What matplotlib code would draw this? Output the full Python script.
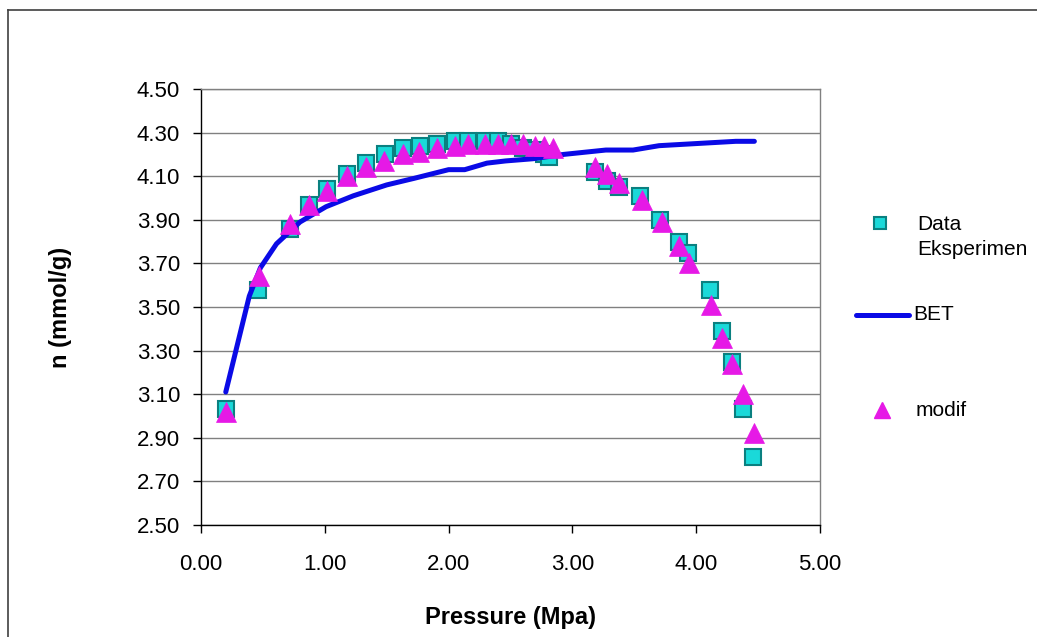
import matplotlib.pyplot as plt
from matplotlib.lines import Line2D

plt.rcParams['font.family'] = ['Liberation Sans', 'DejaVu Sans']

# Data Eksperimen (squares)
exp_x = [0.20, 0.46, 0.72, 0.87, 1.02, 1.18, 1.33, 1.49, 1.63, 1.77, 1.91,
         2.05, 2.16, 2.29, 2.40, 2.50, 2.60, 2.70, 2.77, 2.81,
         3.18, 3.28, 3.38, 3.55, 3.71, 3.86, 3.93, 4.11, 4.21, 4.29, 4.38, 4.46]
exp_y = [3.03, 3.58, 3.86, 3.97, 4.04, 4.11, 4.16, 4.20, 4.23, 4.24, 4.25,
         4.26, 4.26, 4.26, 4.26, 4.25, 4.23, 4.22, 4.20, 4.19,
         4.12, 4.08, 4.05, 4.01, 3.90, 3.80, 3.75, 3.58, 3.39, 3.25, 3.03, 2.81]

# modif (triangles)
modif_x = [0.20, 0.47, 0.72, 0.87, 1.02, 1.18, 1.33, 1.48, 1.63, 1.76, 1.91,
           2.05, 2.16, 2.29, 2.40, 2.50, 2.60, 2.70, 2.77, 2.84,
           3.18, 3.28, 3.38, 3.56, 3.72, 3.86, 3.94, 4.12, 4.21, 4.29, 4.38, 4.47]
modif_y = [3.02, 3.64, 3.88, 3.97, 4.03, 4.10, 4.14, 4.17, 4.20, 4.21, 4.23,
           4.24, 4.25, 4.25, 4.25, 4.25, 4.25, 4.24, 4.24, 4.23,
           4.14, 4.11, 4.07, 3.99, 3.89, 3.78, 3.70, 3.51, 3.36, 3.24, 3.10, 2.92]

# BET model (line)
bet_x = [0.20, 0.39, 0.48, 0.61, 0.80, 1.01, 1.23, 1.50, 1.72, 2.00, 2.13,
         2.31, 2.46, 2.68, 2.93, 3.27, 3.49, 3.70, 4.01, 4.32, 4.47]
bet_y = [3.11, 3.55, 3.68, 3.79, 3.89, 3.96, 4.01, 4.06, 4.09, 4.13, 4.13,
         4.16, 4.17, 4.18, 4.20, 4.22, 4.22, 4.24, 4.25, 4.26, 4.26]

x_ticks = [0, 1, 2, 3, 4, 5]
y_ticks = [2.5, 2.7, 2.9, 3.1, 3.3, 3.5, 3.7, 3.9, 4.1, 4.3, 4.5]

sq_face = '#1ad9d9'
sq_edge = '#0a8080'
tri_col = '#e619e6'
bet_col = '#0a0ae6'

fig = plt.figure(figsize=(10.37, 6.37), dpi=100)
ax = fig.add_axes([201 / 1037, 1 - 525 / 637, 619 / 1037, 436 / 637])

ax.plot(exp_x, exp_y, linestyle='none', marker='s', ms=12,
        mfc=sq_face, mec=sq_edge, mew=1.5, zorder=3)
ax.plot(bet_x, bet_y, color=bet_col, lw=3.6, solid_capstyle='round', zorder=4)
ax.plot(modif_x, modif_y, linestyle='none', marker='^', ms=14.5,
        mfc=tri_col, mec=tri_col, mew=0.5, zorder=5)

ax.set_xlim(0, 5)
ax.set_ylim(2.5, 4.5)
ax.set_xticks(x_ticks)
ax.set_yticks(y_ticks)
ax.set_xticklabels(['%.2f' % v for v in x_ticks])
ax.set_yticklabels(['%.2f' % v for v in y_ticks])
ax.tick_params(axis='both', direction='out', length=6, width=1,
               labelsize=16, colors='black')
ax.tick_params(axis='y', pad=9)
ax.tick_params(axis='x', pad=15)
ax.yaxis.grid(True, color='#808080', lw=1)
ax.set_axisbelow(True)

ax.spines['left'].set_color('black')
ax.spines['bottom'].set_color('black')
ax.spines['top'].set_color('#808080')
ax.spines['right'].set_color('#808080')
for s in ax.spines.values():
    s.set_linewidth(1)

ax.set_xlabel('Pressure (Mpa)', fontsize=17, fontweight='bold', labelpad=22)
ax.set_ylabel('n (mmol/g)', fontsize=17, fontweight='bold', labelpad=47)

# legend drawn by hand, Excel style
fig.add_artist(Line2D([880 / 1037], [1 - 223 / 637], marker='s', ms=8,
                      mfc=sq_face, mec=sq_edge, mew=1.5, linestyle='none'))
fig.text(917 / 1037, 1 - 237 / 637, 'Data\nEksperimen', fontsize=15,
         va='center', ha='left', linespacing=1.4)
fig.add_artist(Line2D([856 / 1037, 909 / 1037], [1 - 315 / 637, 1 - 315 / 637],
                      color=bet_col, lw=3.6, solid_capstyle='round'))
fig.text(913 / 1037, 1 - 315 / 637, 'BET', fontsize=15, va='center', ha='left')
fig.add_artist(Line2D([882 / 1037], [1 - 410 / 637], marker='^', ms=11,
                      mfc=tri_col, mec=tri_col, linestyle='none'))
fig.text(916 / 1037, 1 - 410 / 637, 'modif', fontsize=15, va='center', ha='left')

# outer chart border (top and left visible)
fig.add_artist(Line2D([8 / 1037, 1.0], [1 - 10 / 637, 1 - 10 / 637],
                      color='#404040', lw=1.2))
fig.add_artist(Line2D([8 / 1037, 8 / 1037], [0, 1 - 10 / 637],
                      color='#404040', lw=1.2))

fig.savefig('out.png', dpi=100)
